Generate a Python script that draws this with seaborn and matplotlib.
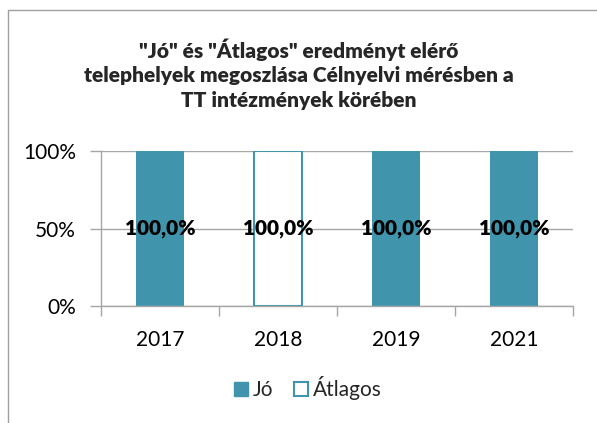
import pandas as pd
import numpy as np

import matplotlib.pyplot as plt
import seaborn as sns
from matplotlib.lines import Line2D
from matplotlib.ticker import FixedLocator

years = ["2017", "2018", "2019", "2021"]
jo = [100.0, 0.0, 100.0, 100.0]
atlagos = [0.0, 100.0, 0.0, 0.0]
series_names = ["Jó", "Átlagos"]
title = '"Jó" és "Átlagos" eredményt elérő\ntelephelyek megoszlása Célnyelvi mérésben a\nTT intézmények körében'

teal = "#4095AC"
grid_gray = "#A6A6A6"

sns.set_theme(style="white")
plt.rcParams['font.family'] = ['Lato', 'DejaVu Sans']

df = pd.DataFrame({"year": years, "Jó": jo, "Átlagos": atlagos})

fig = plt.figure(figsize=(5.97, 4.23), dpi=100)
ax = fig.add_axes([101 / 597, 1 - 306 / 423, 472 / 597, 155 / 423])

sns.barplot(data=df, x="year", y="Jó", color=teal, width=0.41, ax=ax,
            linewidth=0, saturation=1)
sns.barplot(data=df, x="year", y="Átlagos", bottom=list(jo), ax=ax, width=0.41,
            color="white", edgecolor=teal, linewidth=1.5, saturation=1)

# data labels in the middle of non-empty segments
for cont, vals in zip(ax.containers, [jo, atlagos]):
    labels = [f"{v:.1f}%".replace(".", ",") if v > 0 else "" for v in vals]
    ax.bar_label(cont, labels=labels, label_type="center", fontsize=15,
                 fontweight="heavy", color="black")

ax.set_ylim(0, 100)
ax.set_xlim(-0.5, len(years) - 0.5)
ax.set_yticks([0, 50, 100])
ax.set_yticklabels(["0%", "50%", "100%"])
ax.yaxis.grid(True, color=grid_gray, linewidth=1)
ax.set_axisbelow(True)
ax.set_xlabel("")
ax.set_ylabel("")

ax.xaxis.set_minor_locator(FixedLocator(np.arange(-0.5, len(years), 1.0)))
ax.tick_params(axis="x", which="major", length=0, labelsize=15, pad=17, colors="black")
ax.tick_params(axis="x", which="minor", length=7, color=grid_gray, width=1, bottom=True)
ax.tick_params(axis="y", length=8, color=grid_gray, width=1, labelsize=15, pad=10,
               left=True, labelcolor="black")

for side in ["top", "right"]:
    ax.spines[side].set_visible(False)
for side in ["left", "bottom"]:
    ax.spines[side].set_color(grid_gray)
    ax.spines[side].set_linewidth(1)

fig.text(0.5, 1 - 74 / 423, title, ha="center", va="center", fontsize=15,
         fontweight="heavy", linespacing=1.33)

handles = [plt.Rectangle((0, 0), 1, 1, facecolor=teal, edgecolor=teal),
           plt.Rectangle((0, 0), 1, 1, facecolor="white", edgecolor=teal, linewidth=1.5)]
fig.legend(handles, series_names, loc="center", bbox_to_anchor=(308 / 597, 1 - 388 / 423),
           ncol=2, frameon=False, fontsize=15, handlelength=0.65, handleheight=0.65,
           handletextpad=0.25, columnspacing=1.0, borderaxespad=0)

# outer chart frame (only top and left visible in the crop)
fig.add_artist(Line2D([7.5 / 597, 7.5 / 597], [0, 1 - 10 / 423], transform=fig.transFigure,
                      color="#A0A0A0", linewidth=1))
fig.add_artist(Line2D([7.5 / 597, 1], [1 - 10 / 423, 1 - 10 / 423], transform=fig.transFigure,
                      color="#A0A0A0", linewidth=1))

fig.savefig("out.png", dpi=100, facecolor="white")
